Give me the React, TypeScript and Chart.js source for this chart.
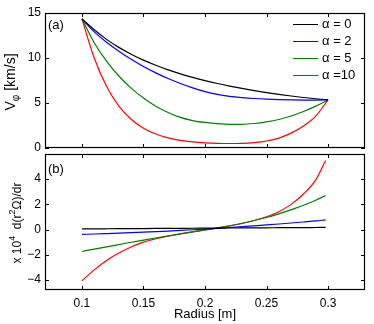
import React, { useEffect, useRef } from "react";
import { Chart, registerables } from "chart.js";

Chart.register(...registerables);

// ---------- data ----------
const radius = [0.10, 0.11, 0.12, 0.13, 0.14, 0.15, 0.16, 0.17, 0.18, 0.19, 0.20, 0.21, 0.22, 0.23, 0.24, 0.25, 0.26, 0.27, 0.28, 0.29, 0.30];

const vAlpha0 = [14.35, 13.13, 12.07, 11.18, 10.42, 9.76, 9.19, 8.68, 8.24, 7.84, 7.49, 7.17, 6.88, 6.62, 6.38, 6.16, 5.96, 5.78, 5.61, 5.47, 5.35];
const vAlpha2 = [14.35, 12.9, 11.75, 10.75, 9.85, 9.05, 8.35, 7.72, 7.17, 6.68, 6.26, 5.95, 5.74, 5.6, 5.5, 5.43, 5.38, 5.35, 5.33, 5.33, 5.35];
const vAlpha5 = [14.35, 11.7, 9.65, 8.0, 6.65, 5.55, 4.65, 3.95, 3.4, 3.05, 2.84, 2.7, 2.63, 2.63, 2.72, 2.9, 3.17, 3.55, 4.05, 4.65, 5.35];
const vAlpha10 = [14.35, 10.0, 6.85, 4.65, 3.2, 2.2, 1.55, 1.12, 0.85, 0.68, 0.58, 0.52, 0.5, 0.52, 0.6, 0.78, 1.1, 1.65, 2.45, 3.55, 5.35];

const radiusDeriv = [0.10, 0.11, 0.12, 0.13, 0.14, 0.15, 0.16, 0.17, 0.18, 0.19, 0.20, 0.21, 0.22, 0.23, 0.24, 0.25, 0.26, 0.27, 0.28, 0.29, 0.298];

const dAlpha0 = [0.05, 0.056, 0.062, 0.068, 0.074, 0.08, 0.086, 0.092, 0.098, 0.104, 0.11, 0.116, 0.122, 0.128, 0.134, 0.14, 0.146, 0.152, 0.158, 0.164, 0.169];
const dAlpha2 = [-0.38, -0.352, -0.32, -0.286, -0.249, -0.208, -0.164, -0.118, -0.068, -0.015, 0.041, 0.1, 0.162, 0.227, 0.296, 0.367, 0.441, 0.519, 0.6, 0.683, 0.77];
const dAlpha5 = [-1.74, -1.55, -1.37, -1.19, -1.01, -0.84, -0.67, -0.51, -0.35, -0.19, -0.03, 0.13, 0.3, 0.5, 0.72, 0.96, 1.24, 1.58, 1.93, 2.33, 2.7];
const dAlpha10 = [-4.07, -3.2, -2.45, -1.86, -1.38, -1.0, -0.73, -0.52, -0.34, -0.18, -0.03, 0.12, 0.29, 0.48, 0.72, 1.02, 1.42, 2.0, 2.82, 3.95, 5.49];

const legendLabels = ["α = 0", "α = 2", "α = 5", "α =10"];
const seriesColors = ["#000000", "#0000ff", "#008000", "#ff0000"];

const xTicks = [0.1, 0.15, 0.2, 0.25, 0.3];
const xTickLabels = ["0.1", "0.15", "0.2", "0.25", "0.3"];
const yTicksTop = [0, 5, 10, 15];
const yTickLabelsTop = ["0", "5", "10", "15"];
const yTicksBottom = [-4, -2, 0, 2, 4];
const yTickLabelsBottom = ["−4", "−2", "0", "2", "4"];

const panelTagTop = "(a)";
const panelTagBottom = "(b)";
const yTitleTop: [string, string][] = [["V", "n"], ["φ", "sub"], [" [km/s]", "n"]];
const yTitleBottom: [string, string][] = [["x 10", "n"], ["4", "sup"], ["  d(r", "n"], ["2", "sup"], ["Ω)/dr", "n"]];
const xTitle = "Radius [m]";

// ---------- helpers ----------
const FAMILY = "'Liberation Sans', Arial, Helvetica, sans-serif";
Chart.defaults.font.family = FAMILY;
Chart.defaults.color = "#000";

function drawRich(ctx: CanvasRenderingContext2D, x: number, y: number, parts: [string, string][], size: number) {
  ctx.save();
  ctx.translate(x, y);
  ctx.rotate(-Math.PI / 2);
  const small = Math.round(size * 0.72);
  const widths = parts.map(([t, k]) => {
    ctx.font = `${k === "n" ? size : small}px ${FAMILY}`;
    return ctx.measureText(t).width;
  });
  const total = widths.reduce((a, b) => a + b, 0);
  let cx = -total / 2;
  ctx.textAlign = "left";
  ctx.textBaseline = "alphabetic";
  ctx.fillStyle = "#000";
  parts.forEach(([t, k], i) => {
    ctx.font = `${k === "n" ? size : small}px ${FAMILY}`;
    const dy = k === "sup" ? -size * 0.5 : k === "sub" ? size * 0.28 : 0;
    ctx.fillText(t, cx, dy);
    cx += widths[i];
  });
  ctx.restore();
}

function makeDecor(cfg: {
  yTicks: number[];
  tag: string;
  tagY: number;
  title: [string, string][];
  titleX: number;
  titleY: number;
  titleSize: number;
  legend: boolean;
}) {
  return {
    id: "decor",
    afterDatasetsDraw(chart: any) {
      const { ctx, chartArea: a, scales } = chart;
      ctx.save();
      ctx.strokeStyle = "#000";
      ctx.lineWidth = 1.2;
      ctx.strokeRect(a.left + 0.5, a.top + 0.5, a.right - a.left - 1, a.bottom - a.top - 1);
      const tl = 4;
      ctx.lineWidth = 1;
      ctx.beginPath();
      for (const v of xTicks) {
        const px = Math.round(scales.x.getPixelForValue(v)) + 0.5;
        ctx.moveTo(px, a.top);
        ctx.lineTo(px, a.top + tl);
        ctx.moveTo(px, a.bottom);
        ctx.lineTo(px, a.bottom - tl);
      }
      for (const v of cfg.yTicks) {
        const py = Math.round(scales.y.getPixelForValue(v)) + 0.5;
        ctx.moveTo(a.left, py);
        ctx.lineTo(a.left + tl, py);
        ctx.moveTo(a.right, py);
        ctx.lineTo(a.right - tl, py);
      }
      ctx.stroke();

      // panel tag
      ctx.fillStyle = "#000";
      ctx.font = `13px ${FAMILY}`;
      ctx.textAlign = "left";
      ctx.textBaseline = "middle";
      ctx.fillText(cfg.tag, a.left + 3, cfg.tagY);

      // legend
      if (cfg.legend) {
        chart.data.datasets.forEach((ds: any, i: number) => {
          const y = 23.5 + i * 17.3;
          ctx.strokeStyle = ds.borderColor;
          ctx.lineWidth = 1;
          ctx.beginPath();
          ctx.moveTo(293, Math.round(y) + 0.5);
          ctx.lineTo(318, Math.round(y) + 0.5);
          ctx.stroke();
          ctx.fillStyle = "#000";
          ctx.font = `13px ${FAMILY}`;
          ctx.textBaseline = "middle";
          ctx.fillText(ds.label, 322, y + 0.5);
        });
      }
      ctx.restore();
      drawRich(ctx, cfg.titleX, cfg.titleY, cfg.title, cfg.titleSize);
    },
  };
}

function makeDatasets(xs: number[], series: number[][]) {
  return series.map((s, i) => ({
    label: legendLabels[i],
    data: xs.map((x, j) => ({ x, y: s[j] })),
    borderColor: seriesColors[i],
    backgroundColor: seriesColors[i],
    borderWidth: 1.2,
    pointRadius: 0,
    fill: false,
    cubicInterpolationMode: "monotone" as const,
  }));
}

export default function App() {
  const topRef = useRef<HTMLCanvasElement>(null);
  const botRef = useRef<HTMLCanvasElement>(null);

  useEffect(() => {
    const top = new Chart(topRef.current!, {
      type: "line",
      data: { datasets: makeDatasets(radius, [vAlpha0, vAlpha2, vAlpha5, vAlpha10]) },
      options: {
        responsive: false,
        animation: false,
        layout: { padding: { left: 0, right: 9, top: 13, bottom: 176 } },
        plugins: { legend: { display: false }, tooltip: { enabled: false } },
        scales: {
          x: { type: "linear", min: 0.07, max: 0.33, display: false },
          y: {
            type: "linear",
            min: 0,
            max: 15,
            afterBuildTicks: (s: any) => {
              s.ticks = yTicksTop.map((v) => ({ value: v }));
            },
            afterFit: (s: any) => {
              s.width = 45;
            },
            grid: { display: false, drawTicks: false },
            border: { display: false },
            ticks: {
              padding: 4,
              font: { size: 12 },
              color: "#000",
              callback: (v: any) => yTickLabelsTop[yTicksTop.indexOf(Number(v))] ?? "",
            },
          },
        },
      },
      plugins: [
        makeDecor({
          yTicks: yTicksTop,
          tag: panelTagTop,
          tagY: 25.5,
          title: yTitleTop,
          titleX: 15,
          titleY: 82,
          titleSize: 14,
          legend: true,
        }),
      ],
    });

    const bot = new Chart(botRef.current!, {
      type: "line",
      data: { datasets: makeDatasets(radiusDeriv, [dAlpha0, dAlpha2, dAlpha5, dAlpha10]) },
      options: {
        responsive: false,
        animation: false,
        layout: { padding: { left: 0, right: 9, top: 154, bottom: 0 } },
        plugins: { legend: { display: false }, tooltip: { enabled: false } },
        scales: {
          x: {
            type: "linear",
            min: 0.07,
            max: 0.33,
            afterBuildTicks: (s: any) => {
              s.ticks = xTicks.map((v) => ({ value: v }));
            },
            afterFit: (s: any) => {
              s.height = 34;
            },
            grid: { display: false, drawTicks: false },
            border: { display: false },
            ticks: {
              padding: 6,
              font: { size: 12 },
              color: "#000",
              maxRotation: 0,
              autoSkip: false,
              callback: (v: any) => xTickLabels[xTicks.findIndex((t) => Math.abs(t - Number(v)) < 1e-9)] ?? "",
            },
            title: {
              display: true,
              text: xTitle,
              font: { size: 13 },
              color: "#000",
              padding: { top: 0, bottom: 2 },
            },
          },
          y: {
            type: "linear",
            min: -4.8,
            max: 6,
            afterBuildTicks: (s: any) => {
              s.ticks = yTicksBottom.map((v) => ({ value: v }));
            },
            afterFit: (s: any) => {
              s.width = 45;
            },
            grid: { display: false, drawTicks: false },
            border: { display: false },
            ticks: {
              padding: 4,
              font: { size: 12 },
              color: "#000",
              callback: (v: any) => yTickLabelsBottom[yTicksBottom.indexOf(Number(v))] ?? "",
            },
          },
        },
      },
      plugins: [
        makeDecor({
          yTicks: yTicksBottom,
          tag: panelTagBottom,
          tagY: 169,
          title: yTitleBottom,
          titleX: 21,
          titleY: 223,
          titleSize: 12,
          legend: false,
        }),
      ],
    });

    return () => {
      top.destroy();
      bot.destroy();
    };
  }, []);

  return (
    <div style={{ position: "fixed", left: 0, top: 0, width: 374, height: 324, background: "#fff" }}>
      <canvas ref={topRef} width={374} height={324} style={{ position: "absolute", left: 0, top: 0 }} />
      <canvas ref={botRef} width={374} height={324} style={{ position: "absolute", left: 0, top: 0 }} />
    </div>
  );
}
